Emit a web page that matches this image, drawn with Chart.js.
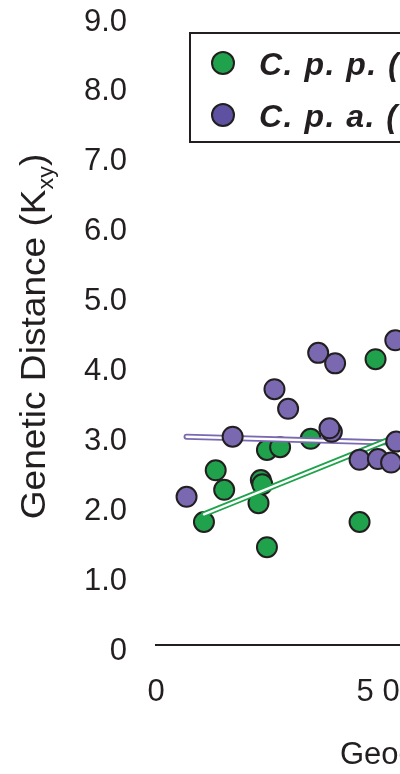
<!DOCTYPE html>
<html>
<head>
<meta charset="utf-8">
<script src="https://cdn.jsdelivr.net/npm/chart.js@4.4.1/dist/chart.umd.min.js"></script>
<style>
  html, body { margin: 0; padding: 0; background: #fff; overflow: hidden; }
  canvas { display: block; }
</style>
</head>
<body>
<canvas id="chart" width="400" height="774"></canvas>
<script>
// Pairwise geographic distance (km) and genetic distance (Kxy)
const cppDistance = [467, 236, 264, 329, 127, 145, 223, 226, 218, 102, 433, 236];
const cppKxy      = [4.09, 2.79, 2.83, 2.95, 2.50, 2.22, 2.36, 2.30, 2.03, 1.76, 1.76, 1.40];
const cpaDistance = [345, 381, 509, 252, 281, 163, 374, 369, 433, 472, 500, 511, 65];
const cpaKxy      = [4.18, 4.03, 4.36, 3.66, 3.38, 2.98, 3.05, 3.10, 2.65, 2.66, 2.61, 2.91, 2.12];

// Trend line end points
const cppTrendDistance = [102, 530];
const cppTrendKxy      = [1.87, 3.03];
const cpaTrendDistance = [65, 530];
const cpaTrendKxy      = [2.98, 2.89];

// Axis ticks and labels
const xTicks = [0, 500];
const yTicks = [0, 1, 2, 3, 4, 5, 6, 7, 8, 9];
const seriesLabels = ['C. p. p.', 'C. p. a.'];
const yTitleMain = 'Genetic Distance (K';
const yTitleSub = 'xy';
const xTitle = 'Geographic Distance (km)';

const INK = '#231f20';
const GREEN = '#1fa24b';
const PURPLE = '#7a69b0';
const PURPLE_KEY = '#5e51a2';
const FONT = "'Liberation Sans', Arial, Helvetica, sans-serif";

const toPoints = (xs, ys) => xs.map((x, i) => ({ x, y: ys[i] }));

function pointSet(label, xs, ys, color, order) {
  return {
    type: 'scatter', label, data: toPoints(xs, ys), order,
    backgroundColor: color, borderColor: INK, borderWidth: 2,
    pointRadius: 10, pointHoverRadius: 10, showLine: false
  };
}
function trendSet(xs, ys, color, width, order) {
  return {
    type: 'scatter', data: toPoints(xs, ys), order,
    showLine: true, borderColor: color, borderWidth: width,
    borderCapStyle: 'round', pointRadius: 0, pointHoverRadius: 0,
    backgroundColor: 'transparent', fill: false
  };
}

// Legend, y title with subscript and x title
const decorations = {
  id: 'decorations',
  afterDraw(chart) {
    const ctx = chart.ctx;
    const area = chart.chartArea;
    ctx.save();

    // legend frame
    ctx.lineWidth = 2;
    ctx.strokeStyle = INK;
    ctx.strokeRect(190, 33, 260, 109);
    const keys = [GREEN, PURPLE_KEY];
    const rows = [63, 115];
    ctx.font = "italic bold 32px " + FONT;
    ctx.letterSpacing = '1.5px';
    ctx.textBaseline = 'alphabetic';
    ctx.textAlign = 'left';
    seriesLabels.forEach((lab, i) => {
      ctx.beginPath();
      ctx.arc(223, rows[i], 11, 0, Math.PI * 2);
      ctx.fillStyle = keys[i];
      ctx.fill();
      ctx.lineWidth = 2;
      ctx.strokeStyle = INK;
      ctx.stroke();
      ctx.fillStyle = INK;
      ctx.fillText(lab + ' (', 259, rows[i] + 12);
    });
    ctx.letterSpacing = '0px';

    // y-axis title, rotated, with subscript
    const cy = (area.top + area.bottom) / 2 + 6;
    ctx.translate(45, cy);
    ctx.rotate(-Math.PI / 2);
    ctx.scale(1.06, 1);
    ctx.fillStyle = INK;
    ctx.textAlign = 'left';
    ctx.font = "35px " + FONT;
    const wMain = ctx.measureText(yTitleMain).width;
    ctx.font = "22px " + FONT;
    const wSub = ctx.measureText(yTitleSub).width;
    ctx.font = "35px " + FONT;
    const wClose = ctx.measureText(')').width;
    const x0 = -(wMain + wSub + wClose) / 2;
    ctx.fillText(yTitleMain, x0, 0);
    ctx.font = "22px " + FONT;
    ctx.fillText(yTitleSub, x0 + wMain, 8);
    ctx.font = "35px " + FONT;
    ctx.fillText(')', x0 + wMain + wSub, 0);
    ctx.setTransform(1, 0, 0, 1, 0, 0);

    // x-axis title
    ctx.font = "31px " + FONT;
    ctx.fillStyle = INK;
    ctx.textAlign = 'left';
    ctx.fillText(xTitle, 340, 764);
    ctx.restore();
  }
};

new Chart(document.getElementById('chart'), {
  type: 'scatter',
  data: {
    datasets: [
      pointSet(seriesLabels[1], cpaDistance, cpaKxy, PURPLE, 0),
      trendSet(cppTrendDistance, cppTrendKxy, '#ffffff', 2.4, 1),
      trendSet(cppTrendDistance, cppTrendKxy, GREEN, 6, 2),
      trendSet(cpaTrendDistance, cpaTrendKxy, '#ffffff', 2.4, 3),
      trendSet(cpaTrendDistance, cpaTrendKxy, PURPLE, 6, 4),
      pointSet(seriesLabels[0], cppDistance, cppKxy, GREEN, 5)
    ]
  },
  options: {
    responsive: false,
    animation: false,
    events: [],
    layout: { autoPadding: false, padding: { top: 16, left: 0, right: 0, bottom: 0 } },
    plugins: { legend: { display: false }, tooltip: { enabled: false }, title: { display: false } },
    scales: {
      x: {
        type: 'linear', min: 0, max: 519,
        afterBuildTicks: s => { s.ticks = xTicks.map(v => ({ value: v })); },
        afterFit: s => { s.height = 129; s.paddingLeft = 0; s.paddingRight = 0; },
        ticks: {
          font: { family: FONT, size: 31 }, color: INK, padding: 29,
          maxRotation: 0, autoSkip: false, includeBounds: false,
          callback: v => String(v).split('').join(' ')
        },
        grid: { display: false, drawTicks: false },
        border: { display: true, color: INK, width: 2 }
      },
      y: {
        type: 'linear', min: 0, max: 9,
        afterBuildTicks: s => { s.ticks = yTicks.map(v => ({ value: v })); },
        afterFit: s => { s.width = 156; s.paddingTop = 0; s.paddingBottom = 0; },
        ticks: {
          font: { family: FONT, size: 31 }, color: INK, padding: 29, labelOffset: 6,
          callback: v => v === 0 ? '0' : v.toFixed(1)
        },
        grid: { display: false, drawTicks: false },
        border: { display: false }
      }
    }
  },
  plugins: [decorations]
});
</script>
</body>
</html>
